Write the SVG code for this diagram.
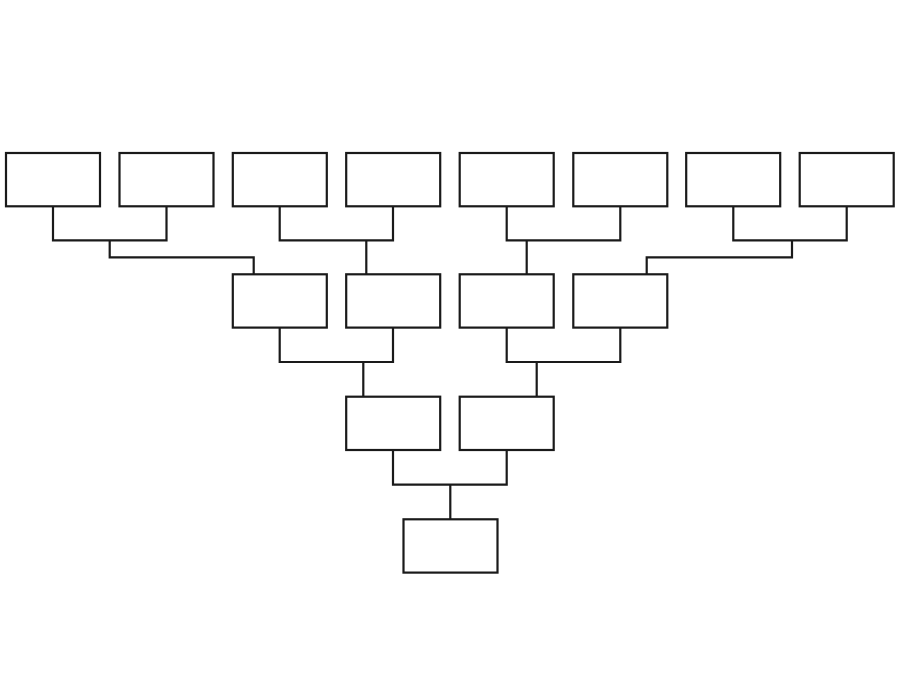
<svg xmlns="http://www.w3.org/2000/svg" width="900" height="695" viewBox="0 0 900 695">
<style>
.box{fill:#fff;stroke:#1a1a1a;stroke-width:2.2}
.wire{fill:none;stroke:#1a1a1a;stroke-width:2.2;stroke-linejoin:miter;stroke-linecap:square}
</style>
<rect width="900" height="695" fill="#fff"/>
<g id="connectors">
<path class="wire" d="M53,206 V240.3 H166.5 V206 M109.7,240.3 V257.3 H253.7 V274.3"/>
<path class="wire" d="M279.7,206 V240.3 H393 V206 M366.3,240.3 V274.3"/>
<path class="wire" d="M506.7,206 V240.3 H620.3 V206 M526.7,240.3 V274.3"/>
<path class="wire" d="M733.3,206 V240.3 H846.7 V206 M792,240.3 V257.3 H646.7 V274.3"/>
<path class="wire" d="M279.7,327.7 V362 H393 V327.7 M363.3,362 V396.7"/>
<path class="wire" d="M506.7,327.7 V362 H620.3 V327.7 M536.7,362 V396.7"/>
<path class="wire" d="M393,450 V484.7 H506.7 V450 M450.3,484.7 V519.3"/>
</g>
<g id="n1"><rect class="box" x="6" y="153" width="94" height="53.3"/></g>
<g id="n2"><rect class="box" x="119.5" y="153" width="94" height="53.3"/></g>
<g id="n3"><rect class="box" x="232.8" y="153" width="94" height="53.3"/></g>
<g id="n4"><rect class="box" x="346.2" y="153" width="94" height="53.3"/></g>
<g id="n5"><rect class="box" x="459.7" y="153" width="94" height="53.3"/></g>
<g id="n6"><rect class="box" x="573.3" y="153" width="94" height="53.3"/></g>
<g id="n7"><rect class="box" x="686.2" y="153" width="94" height="53.3"/></g>
<g id="n8"><rect class="box" x="799.7" y="153" width="94" height="53.3"/></g>
<g id="n9"><rect class="box" x="232.8" y="274.3" width="94" height="53.3"/></g>
<g id="n10"><rect class="box" x="346.2" y="274.3" width="94" height="53.3"/></g>
<g id="n11"><rect class="box" x="459.7" y="274.3" width="94" height="53.3"/></g>
<g id="n12"><rect class="box" x="573.3" y="274.3" width="94" height="53.3"/></g>
<g id="n13"><rect class="box" x="346.2" y="396.7" width="94" height="53.3"/></g>
<g id="n14"><rect class="box" x="459.7" y="396.7" width="94" height="53.3"/></g>
<g id="n15"><rect class="box" x="403.5" y="519.3" width="94" height="53.3"/></g>
</svg>
